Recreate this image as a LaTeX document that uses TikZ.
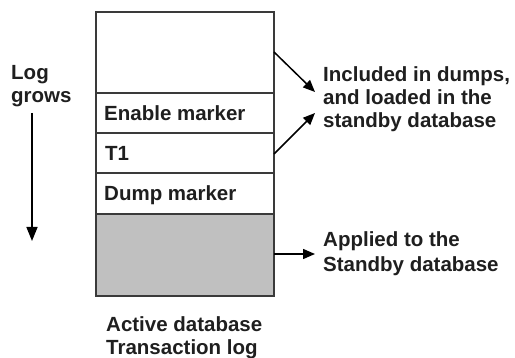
\documentclass[tikz,border=0pt]{standalone}
\usepackage{fontspec}
\setmainfont{Liberation Sans}
\usetikzlibrary{arrows.meta}
\definecolor{boxline}{HTML}{3A3A3A}
\definecolor{logfill}{HTML}{C0C0C0}
\begin{document}
\begin{tikzpicture}[x=1pt,y=-1pt,
  lbl/.style={inner sep=0pt,anchor=base west,font=\fontsize{20.5}{23}\selectfont\bfseries,text=black!88},
  seg/.style={draw=boxline,line width=1.4pt},
  arr/.style={line width=1.5pt,-{Triangle[length=12pt,width=10pt]}}]
\useasboundingbox (0,0) rectangle (515,358);
% log rows
\path[seg,fill=white] (96,12) rectangle (274,93);
\path[seg,fill=white] (96,93) rectangle (274,133);
\path[seg,fill=white] (96,133) rectangle (274,173);
\path[seg,fill=white] (96,173) rectangle (274,214);
\path[seg,fill=logfill] (96,214) rectangle (274,296);
\node[lbl] (enable) at (104,121) {Enable marker};
\node[lbl] (t1) at (105,161) {T1};
\node[lbl] (dump) at (104,201) {Dump marker};
\coordinate (top) at (274,52);
\coordinate (t1r) at (274,154);
\coordinate (grayr) at (274,254);
% left label
\node[lbl] (log) at (11,80) {Log};
\node[lbl] (grows) at (11,103) {grows};
\coordinate (ga) at (32,113);
\coordinate (gb) at (32,241);
\draw[line width=1.5pt,-{Triangle[length=14pt,width=11pt]}] (ga) -- (gb);
% right labels
\node[lbl] (inc1) at (323,82) {Included in dumps,};
\node[lbl] (inc2) at (323,105) {and loaded in the};
\node[lbl] (inc3) at (323,128) {standby database};
\coordinate (ia) at (315,92);
\coordinate (ib) at (315,113);
\draw[arr] (top) -- (ia);
\draw[arr] (t1r) -- (ib);
\node[lbl] (app1) at (323,247) {Applied to the};
\node[lbl] (app2) at (323,272) {Standby database};
\coordinate (aa) at (315,254);
\draw[arr] (grayr) -- (aa);
% bottom caption
\node[lbl] (act1) at (106,332) {Active database};
\node[lbl] (act2) at (106,355) {Transaction log};
\end{tikzpicture}
\end{document}
